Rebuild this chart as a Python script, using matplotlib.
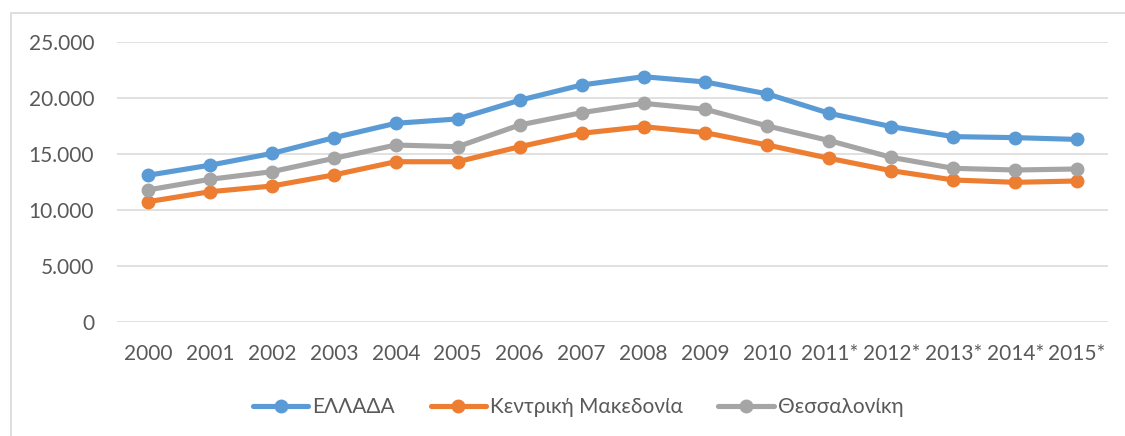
import matplotlib.pyplot as plt
from matplotlib.ticker import FuncFormatter
from matplotlib.patches import Rectangle

# Data
years = ["2000", "2001", "2002", "2003", "2004", "2005", "2006", "2007",
         "2008", "2009", "2010", "2011*", "2012*", "2013*", "2014*", "2015*"]
ellada = [13100, 14000, 15050, 16450, 17740, 18130, 19800, 21160,
          21900, 21430, 20360, 18630, 17440, 16550, 16460, 16300]
kentriki_makedonia = [10740, 11630, 12140, 13130, 14310, 14310, 15650, 16850,
                      17440, 16900, 15800, 14610, 13510, 12680, 12470, 12590]
thessaloniki = [11790, 12740, 13420, 14610, 15800, 15650, 17590, 18690,
                19520, 18990, 17500, 16190, 14700, 13720, 13570, 13660]

series = [
    ("ΕΛΛΑΔΑ", ellada, "#5B9BD5"),
    ("Κεντρική Μακεδονία", kentriki_makedonia, "#ED7D31"),
    ("Θεσσαλονίκη", thessaloniki, "#A5A5A5"),
]

plt.rcParams["font.family"] = ["Lato", "DejaVu Sans"]
text_col = "#595959"

fig = plt.figure(figsize=(11.25, 4.36), dpi=100)
ax = fig.add_axes([0.104, 0.2615, 0.881, 0.6422])

# outer chart frame
fig.patches.append(Rectangle((11 / 1125, -0.1), 1.2, 1 - 13 / 436 + 0.1,
                             transform=fig.transFigure, fill=False,
                             edgecolor="#d9d9d9", linewidth=1.2))

x = list(range(len(years)))
for name, vals, col in series:
    ax.plot(x, vals, color=col, linewidth=3.7, marker="o", markersize=9,
            label=name, solid_capstyle="round")

ax.set_xlim(-0.5, len(years) - 0.5)
ax.set_ylim(0, 25000)
ax.set_yticks(range(0, 25001, 5000))
ax.yaxis.set_major_formatter(FuncFormatter(lambda v, p: f"{int(v):,}".replace(",", ".")))
ax.set_xticks(x)
ax.set_xticklabels(years)

ax.grid(axis="y", color="#d9d9d9", linewidth=1.1)
ax.set_axisbelow(True)
for s in ax.spines.values():
    s.set_visible(False)
ax.tick_params(axis="both", length=0, labelsize=15, colors=text_col)
ax.tick_params(axis="y", pad=16.5)
ax.tick_params(axis="x", pad=16)

leg = fig.legend(loc="center", bbox_to_anchor=(0.514, 0.066), ncol=3, frameon=False,
                 fontsize=15, handlelength=2.65, columnspacing=1.7, handletextpad=0.2)
for t in leg.get_texts():
    t.set_color(text_col)

fig.savefig("out.png", dpi=100)
